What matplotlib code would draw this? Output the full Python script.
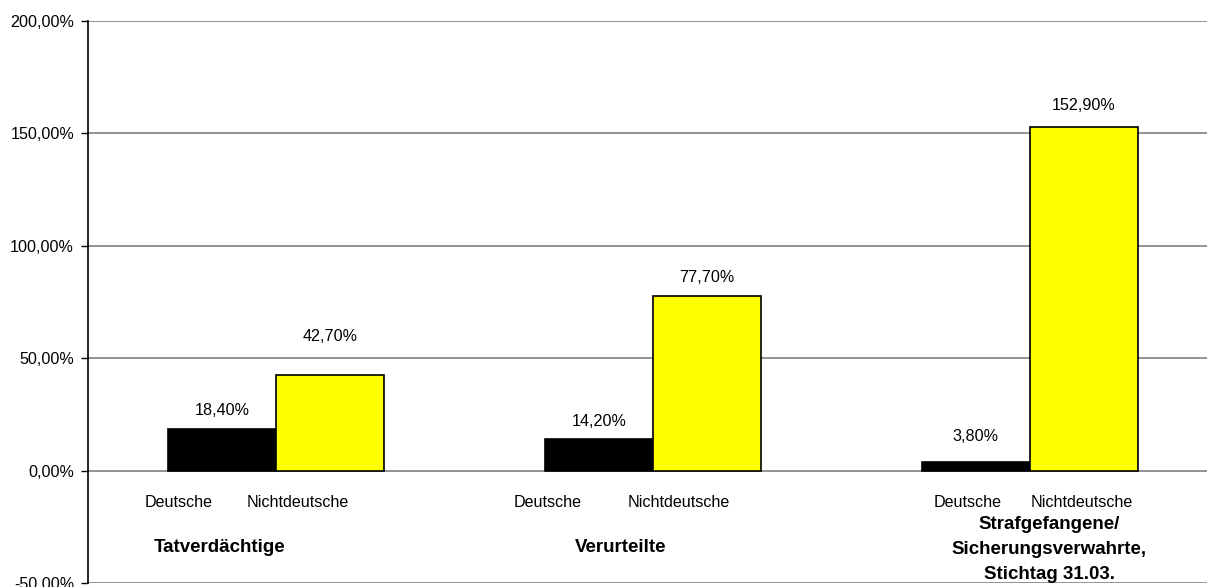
import numpy as np
import matplotlib.pyplot as plt

plt.rcParams['font.family'] = ['Liberation Sans', 'DejaVu Sans']

# Veränderung in Prozent je Gruppe
gruppen = ['Tatverdächtige', 'Verurteilte',
           'Strafgefangene/\nSicherungsverwahrte,\nStichtag 31.03.']
deutsche = [18.4, 14.2, 3.8]
nichtdeutsche = [42.7, 77.7, 152.9]
serien = ['Deutsche', 'Nichtdeutsche']
y_ticks = [-50, 0, 50, 100, 150, 200]
y_labels = ['-50,00%', '0,00%', '50,00%', '100,00%', '150,00%', '200,00%']

W, H = 1207, 587
fig = plt.figure(figsize=(W / 100, H / 100), dpi=100)
ax = fig.add_axes([88 / W, 4 / H, (1218 - 88) / W, (583 - 21) / H])

x = np.arange(len(gruppen))
bw = 0.287
b1 = ax.bar(x - bw / 2, deutsche, bw, color='black', edgecolor='black', lw=1.2, zorder=3)
b2 = ax.bar(x + bw / 2, nichtdeutsche, bw, color='#ffff00', edgecolor='black', lw=1.2, zorder=3)

def pct(v):
    return f'{v:.2f}'.replace('.', ',') + '%'

# Abstand der Wertbeschriftung über dem Balken (Punkte)
abst_d = [8, 7, 13]
abst_n = [22, 8, 10]
fs = 11.6
for rect, v, d in zip(b1, deutsche, abst_d):
    ax.annotate(pct(v), (rect.get_x() + rect.get_width() / 2, v), xytext=(0, d),
                textcoords='offset points', ha='center', va='bottom', fontsize=fs)
for rect, v, d in zip(b2, nichtdeutsche, abst_n):
    ax.annotate(pct(v), (rect.get_x() + rect.get_width() / 2, v), xytext=(0, d),
                textcoords='offset points', ha='center', va='bottom', fontsize=fs)

# Achsenbeschriftungen unter den Balken
off_d = [-0.259, -0.280, -0.166]
off_n = [0.057, 0.068, 0.139]
off_g = [-0.150, -0.086, 0.052]
y_g = [-34.2, -34.2, -35.2]
for i in range(len(gruppen)):
    ax.text(x[i] + off_d[i], -14.2, serien[0], ha='center', va='center', fontsize=fs)
    ax.text(x[i] + off_n[i], -14.2, serien[1], ha='center', va='center', fontsize=fs)
    ax.text(x[i] + off_g[i], y_g[i], gruppen[i], ha='center', va='center',
            fontsize=13.5, fontweight='bold', linespacing=1.6)

ax.set_xlim(-0.5, 2.5)
ax.set_ylim(-50, 200)
ax.set_yticks(y_ticks)
ax.set_yticklabels(y_labels, fontsize=fs)
ax.set_xticks([])
ax.tick_params(axis='y', length=5, width=1, pad=5)
ax.yaxis.grid(True, color='#808080', lw=1.2, zorder=0)
for s in ['top', 'right', 'bottom']:
    ax.spines[s].set_visible(False)
ax.spines['left'].set_linewidth(1.2)

fig.savefig('out.png', dpi=100)
